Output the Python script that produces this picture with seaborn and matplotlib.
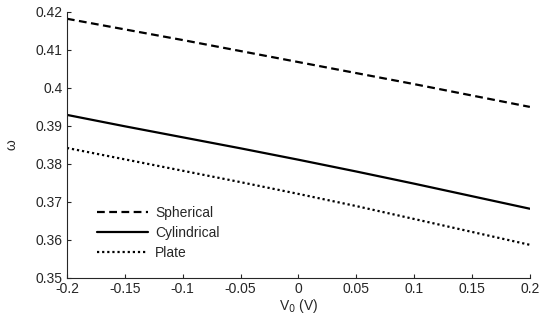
import numpy as np
import pandas as pd
import seaborn as sns
from matplotlib import pyplot as plt

v0 = [-0.2, -0.15, -0.1, -0.05, 0.0, 0.05, 0.1, 0.15, 0.2]
spherical = [0.4182, 0.4154, 0.4126, 0.4097, 0.4068, 0.4039, 0.4010, 0.3980, 0.3950]
cylindrical = [0.3929, 0.3899, 0.3870, 0.3841, 0.3811, 0.3780, 0.3748, 0.3715, 0.3682]
plate = [0.3842, 0.3812, 0.3782, 0.3752, 0.3721, 0.3689, 0.3655, 0.3621, 0.3587]
names = ["Spherical", "Cylindrical", "Plate"]

df = pd.DataFrame({"V0": v0 * 3,
                   "omega": spherical + cylindrical + plate,
                   "shape": [n for n in names for _ in v0]})

sns.set_style("ticks")
plt.rcParams["font.family"] = ["Liberation Sans", "DejaVu Sans"]
plt.rcParams["xtick.direction"] = "in"
plt.rcParams["ytick.direction"] = "in"

fig = plt.figure(figsize=(5.44, 3.22), dpi=100)
ax = fig.add_axes([0.123, 0.137, 0.851, 0.826])

sns.lineplot(data=df, x="V0", y="omega", hue="shape", style="shape",
             hue_order=names, style_order=names, palette=["k"] * 3,
             dashes={"Spherical": (3.5, 2), "Cylindrical": "", "Plate": (1, 1.3)},
             linewidth=1.6, ax=ax)

ax.set_xlim(-0.2, 0.2)
ax.set_ylim(0.35, 0.42)
ax.set_xticks(v0)
ax.set_xticklabels(["-0.2", "-0.15", "-0.1", "-0.05", "0", "0.05", "0.1", "0.15", "0.2"])
ax.set_yticks([0.35, 0.36, 0.37, 0.38, 0.39, 0.4, 0.41, 0.42])
ax.set_yticklabels(["0.35", "0.36", "0.37", "0.38", "0.39", "0.4", "0.41", "0.42"])
ax.tick_params(labelsize=10, length=3, width=0.8, pad=3)
ax.set_xlabel("V$_0$ (V)", fontsize=10, labelpad=1)
ax.set_ylabel("ω", fontsize=10, labelpad=12)
sns.despine(ax=ax)

ax.legend(loc="center left", bbox_to_anchor=(0.065, 0.169), frameon=False,
          fontsize=10, handlelength=3.7, handletextpad=0.5, labelspacing=0.44,
          borderpad=0, borderaxespad=0)

fig.savefig("out.png", dpi=100)
